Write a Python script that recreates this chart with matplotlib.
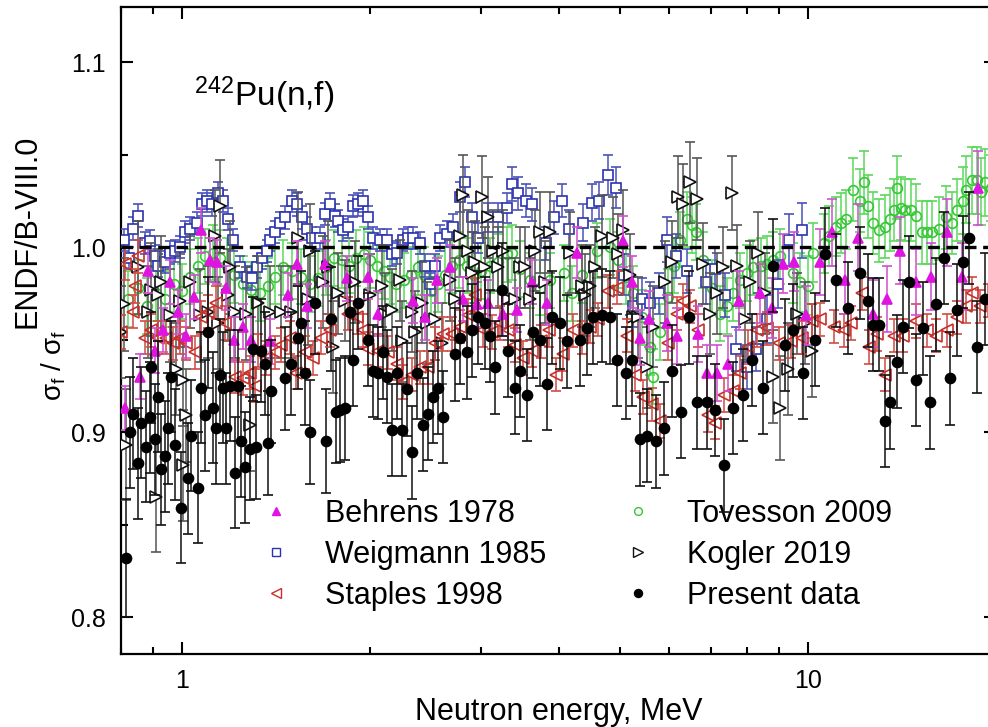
import matplotlib
matplotlib.use("Agg")
import matplotlib.pyplot as plt
import matplotlib.ticker as mticker
from matplotlib.lines import Line2D
import numpy as np

plt.rcParams["font.family"] = ["Liberation Sans", "DejaVu Sans"]
plt.rcParams["mathtext.fontset"] = "custom"
plt.rcParams["mathtext.rm"] = "Liberation Sans"
plt.rcParams["mathtext.it"] = "Liberation Sans"
plt.rcParams["mathtext.bf"] = "Liberation Sans:bold"

# (energy MeV, ratio to ENDF/B-VIII.0, uncertainty)
behrens = [
    (0.81, 0.913, 0.012), (0.857, 0.930, 0.012), (0.882, 0.987, 0.012), (0.905, 0.944, 0.012),
    (0.932, 0.955, 0.012), (0.957, 0.981, 0.012), (0.985, 0.965, 0.012), (1.015, 0.952, 0.012),
    (1.045, 0.973, 0.012), (1.072, 1.009, 0.012), (1.108, 0.993, 0.012), (1.137, 0.992, 0.012),
    (1.176, 0.978, 0.012), (1.211, 0.950, 0.012), (1.251, 0.957, 0.012), (1.289, 0.950, 0.012),
    (1.382, 0.949, 0.012), (1.477, 0.974, 0.012), (1.526, 0.991, 0.012), (1.584, 0.968, 0.012),
    (1.692, 0.991, 0.012), (1.834, 0.983, 0.012), (1.982, 0.984, 0.012), (2.057, 0.964, 0.012),
    (2.339, 0.971, 0.012), (2.444, 0.962, 0.012), (2.555, 0.982, 0.012), (2.680, 0.989, 0.012),
    (2.810, 0.972, 0.012), (2.960, 0.969, 0.012), (3.082, 0.970, 0.012), (3.257, 0.964, 0.012),
    (3.430, 0.966, 0.012), (3.624, 0.981, 0.012), (3.830, 0.970, 0.012), (4.272, 0.997, 0.014),
    (5.06, 1.003, 0.014), (5.236, 0.981, 0.014), (5.392, 0.951, 0.015), (5.574, 0.961, 0.015),
    (5.955, 0.959, 0.015), (6.182, 0.952, 0.015), (6.673, 0.953, 0.015), (6.896, 0.932, 0.015),
    (7.157, 0.932, 0.015), (7.450, 0.937, 0.015), (7.758, 0.971, 0.016), (8.381, 0.975, 0.016),
    (8.762, 0.967, 0.016), (9.120, 0.991, 0.016), (9.51, 0.992, 0.016), (9.92, 0.963, 0.016),
    (10.45, 0.992, 0.018), (10.92, 1.008, 0.018), (11.46, 0.982, 0.018), (12.0, 1.005, 0.018),
    (12.69, 0.964, 0.018), (13.36, 0.972, 0.018), (14.03, 0.998, 0.018), (14.89, 0.981, 0.018),
    (15.72, 0.984, 0.018), (16.7, 1.008, 0.018), (17.6, 0.984, 0.018), (18.7, 1.032, 0.02),
]

weigmann = [
    (0.807, 1.004, 0.006), (0.823, 0.994, 0.006), (0.835, 1.010, 0.006), (0.851, 1.017, 0.006),
    (0.873, 1.002, 0.006), (0.889, 1.003, 0.006), (0.905, 0.995, 0.006), (0.915, 0.990, 0.006),
    (0.939, 0.992, 0.006), (0.957, 0.997, 0.006), (0.975, 0.998, 0.006), (0.993, 1.000, 0.006),
    (1.011, 1.008, 0.006), (1.030, 1.010, 0.006), (1.057, 1.013, 0.006), (1.076, 1.023, 0.006),
    (1.096, 1.025, 0.006), (1.117, 1.023, 0.006), (1.142, 1.029, 0.006), (1.163, 1.025, 0.006),
    (1.184, 1.015, 0.006), (1.206, 1.004, 0.006), (1.238, 0.989, 0.006), (1.270, 0.984, 0.006),
    (1.294, 0.983, 0.006), (1.318, 0.989, 0.006), (1.342, 0.994, 0.006), (1.367, 0.998, 0.006),
    (1.382, 1.004, 0.006), (1.408, 1.008, 0.006), (1.434, 1.013, 0.006), (1.460, 1.016, 0.006),
    (1.499, 1.025, 0.006), (1.526, 1.023, 0.006), (1.555, 1.016, 0.006), (1.584, 1.010, 0.006),
    (1.613, 1.005, 0.006), (1.661, 1.005, 0.006), (1.692, 1.018, 0.006), (1.723, 1.023, 0.006),
    (1.755, 1.017, 0.006), (1.775, 1.014, 0.006), (1.808, 1.009, 0.006), (1.841, 1.011, 0.006),
    (1.875, 1.022, 0.006), (1.910, 1.023, 0.006), (1.946, 1.025, 0.006), (1.982, 1.016, 0.006),
    (2.019, 1.005, 0.006), (2.072, 1.004, 0.006), (2.126, 1.004, 0.006), (2.165, 0.996, 0.006),
    (2.205, 0.997, 0.006), (2.255, 1.004, 0.006), (2.297, 1.005, 0.006), (2.339, 1.005, 0.006),
    (2.400, 1.002, 0.006), (2.444, 0.990, 0.006), (2.490, 0.980, 0.006), (2.536, 0.990, 0.006),
    (2.583, 1.005, 0.007), (2.650, 1.007, 0.007), (2.710, 1.011, 0.007), (2.780, 1.027, 0.008),
    (2.832, 1.035, 0.008), (2.906, 1.016, 0.008), (2.970, 1.005, 0.008), (3.082, 1.016, 0.008),
    (3.197, 1.016, 0.008), (3.304, 1.021, 0.008), (3.368, 1.034, 0.009), (3.441, 1.029, 0.009),
    (3.544, 1.025, 0.009), (3.624, 1.023, 0.009), (3.810, 1.002, 0.009), (3.929, 1.016, 0.009),
    (4.048, 1.025, 0.009), (4.150, 1.010, 0.010), (4.372, 1.013, 0.010), (4.521, 1.024, 0.010),
    (4.636, 1.025, 0.010), (4.793, 1.039, 0.011), (4.936, 1.032, 0.011), (5.084, 0.985, 0.011),
    (5.256, 0.968, 0.011), (5.433, 0.972, 0.011), (5.594, 0.970, 0.011), (5.783, 0.975, 0.011),
    (5.955, 1.004, 0.012), (6.160, 0.995, 0.012), (6.402, 0.987, 0.012), (6.873, 0.981, 0.012),
    (7.102, 0.988, 0.012), (7.370, 0.974, 0.012), (7.673, 0.945, 0.012), (7.987, 0.935, 0.012),
    (8.259, 0.945, 0.012), (8.603, 0.961, 0.013), (8.957, 0.980, 0.013), (9.324, 1.004, 0.014),
    (9.780, 1.009, 0.015),
]

staples = [
    (0.799, 0.954, 0.009), (0.811, 0.991, 0.009), (0.835, 0.965, 0.009), (0.841, 0.979, 0.009),
    (0.851, 0.995, 0.009), (0.873, 0.951, 0.009), (0.892, 0.955, 0.009), (0.915, 0.951, 0.009),
    (0.943, 0.951, 0.009), (0.967, 0.948, 0.009), (0.993, 0.951, 0.009), (1.015, 0.948, 0.009),
    (1.049, 0.943, 0.009), (1.072, 0.962, 0.009), (1.100, 0.965, 0.009), (1.133, 0.970, 0.009),
    (1.171, 0.959, 0.009), (1.215, 0.930, 0.009), (1.251, 0.929, 0.009), (1.284, 0.932, 0.009),
    (1.308, 0.925, 0.009), (1.322, 0.944, 0.009), (1.362, 0.940, 0.009), (1.408, 0.943, 0.009),
    (1.439, 0.947, 0.009), (1.488, 0.951, 0.009), (1.521, 0.932, 0.009), (1.572, 0.943, 0.009),
    (1.619, 0.940, 0.009), (1.667, 0.951, 0.009), (1.723, 0.955, 0.009), (1.841, 0.964, 0.009),
    (1.903, 0.962, 0.009), (1.946, 0.955, 0.009), (1.982, 0.945, 0.009), (2.057, 0.944, 0.009),
    (2.134, 0.943, 0.009), (2.205, 0.937, 0.009), (2.255, 0.927, 0.009), (2.330, 0.931, 0.009),
    (2.400, 0.935, 0.009), (2.471, 0.935, 0.009), (2.536, 0.948, 0.009), (2.612, 0.953, 0.009),
    (2.700, 0.953, 0.009), (2.780, 0.957, 0.009), (2.863, 0.963, 0.009), (2.938, 0.974, 0.009),
    (3.024, 0.955, 0.009), (3.128, 0.954, 0.009), (3.221, 0.959, 0.009), (3.316, 0.955, 0.009),
    (3.404, 0.947, 0.009), (3.505, 0.940, 0.009), (3.624, 0.944, 0.009), (3.745, 0.949, 0.009),
    (3.858, 0.955, 0.009), (3.958, 0.931, 0.009), (4.068, 0.942, 0.009), (4.220, 0.955, 0.009),
    (4.359, 0.951, 0.009), (4.486, 0.957, 0.009), (4.620, 0.961, 0.009), (4.793, 0.976, 0.009),
    (4.952, 0.978, 0.009), (5.140, 0.952, 0.009), (5.295, 0.931, 0.009), (5.453, 0.919, 0.009),
    (5.635, 0.915, 0.009), (5.804, 0.906, 0.009), (5.977, 0.948, 0.009), (6.182, 0.964, 0.009),
    (6.317, 0.971, 0.009), (6.479, 0.968, 0.009), (6.673, 0.955, 0.009), (6.922, 0.909, 0.009),
    (7.102, 0.905, 0.009), (7.340, 0.920, 0.009), (7.589, 0.922, 0.009), (7.787, 0.932, 0.009),
    (8.013, 0.946, 0.009), (8.289, 0.955, 0.009), (8.603, 0.956, 0.009), (8.990, 0.948, 0.009),
    (9.393, 0.949, 0.009), (9.780, 0.951, 0.009), (10.14, 0.960, 0.009), (10.45, 0.961, 0.009),
    (11.0, 0.957, 0.009), (11.4, 0.955, 0.009), (11.7, 0.959, 0.009), (12.2, 0.975, 0.009),
    (12.5, 0.946, 0.009), (12.9, 0.953, 0.009), (13.3, 0.931, 0.009), (13.7, 0.952, 0.009),
    (14.2, 0.952, 0.009), (14.9, 0.960, 0.009), (15.5, 0.955, 0.009), (16.0, 0.952, 0.009),
    (16.7, 0.955, 0.009), (17.3, 0.962, 0.009), (17.9, 0.968, 0.009), (18.3, 0.975, 0.009),
    (18.8, 0.968, 0.009), (19.4, 0.971, 0.009),
]

tovesson = [
    (0.82, 0.972, 0.015), (0.85, 0.978, 0.015), (0.88, 0.968, 0.015), (0.91, 0.975, 0.015),
    (0.94, 0.972, 0.015), (0.97, 0.980, 0.015), (1.0, 0.976, 0.015), (1.03, 0.984, 0.015),
    (1.06, 0.990, 0.015), (1.09, 0.995, 0.015), (1.12, 0.997, 0.015), (1.15, 0.994, 0.015),
    (1.18, 0.990, 0.015), (1.21, 0.985, 0.015), (1.25, 0.980, 0.015), (1.29, 0.977, 0.015),
    (1.33, 0.975, 0.015), (1.37, 0.979, 0.015), (1.41, 0.984, 0.015), (1.45, 0.989, 0.015),
    (1.5, 0.987, 0.015), (1.55, 0.984, 0.015), (1.6, 0.980, 0.015), (1.65, 0.983, 0.015),
    (1.7, 0.989, 0.015), (1.75, 0.994, 0.015), (1.8, 0.993, 0.015), (1.85, 0.990, 0.015),
    (1.9, 0.994, 0.015), (1.95, 0.996, 0.015), (2.0, 0.993, 0.015), (2.05, 0.990, 0.015),
    (2.1, 0.987, 0.015), (2.15, 0.984, 0.015), (2.2, 0.980, 0.015), (2.26, 0.982, 0.015),
    (2.32, 0.985, 0.015), (2.38, 0.989, 0.015), (2.44, 0.985, 0.015), (2.5, 0.976, 0.015),
    (2.56, 0.980, 0.015), (2.63, 0.985, 0.015), (2.7, 0.990, 0.015), (2.77, 0.993, 0.015),
    (2.85, 0.990, 0.015), (2.93, 0.985, 0.015), (3.0, 0.987, 0.015), (3.1, 0.990, 0.015),
    (3.2, 0.992, 0.015), (3.3, 0.996, 0.015), (3.37, 0.997, 0.015), (3.47, 0.988, 0.015),
    (3.6, 0.982, 0.015), (3.73, 0.978, 0.015), (3.87, 0.982, 0.015), (4.07, 0.986, 0.015),
    (4.2, 0.975, 0.015), (4.35, 0.985, 0.015), (4.6, 0.998, 0.015), (4.83, 1.000, 0.015),
    (4.97, 0.993, 0.015), (5.12, 0.984, 0.015), (5.26, 0.975, 0.015), (5.43, 0.962, 0.015),
    (5.59, 0.946, 0.015), (5.66, 0.930, 0.015), (5.8, 0.954, 0.015), (5.98, 0.973, 0.015),
    (6.1, 0.990, 0.015), (6.25, 1.004, 0.015), (6.4, 1.015, 0.015), (6.52, 1.012, 0.015),
    (6.63, 1.008, 0.015), (6.8, 0.993, 0.015), (7.03, 0.978, 0.015), (7.23, 0.964, 0.015),
    (7.42, 0.968, 0.015), (7.59, 0.975, 0.015), (7.79, 0.982, 0.015), (7.98, 0.986, 0.015),
    (8.17, 0.989, 0.015), (8.4, 0.990, 0.015), (8.6, 0.991, 0.015), (8.8, 0.993, 0.015),
    (9.02, 0.995, 0.015), (9.46, 0.986, 0.016), (9.71, 0.981, 0.016), (10.0, 0.979, 0.016),
    (10.2, 0.997, 0.016), (10.6, 1.002, 0.016), (10.8, 1.006, 0.016), (11.1, 1.011, 0.016),
    (11.3, 1.013, 0.016), (11.5, 1.015, 0.016), (11.8, 1.031, 0.017), (12.1, 1.025, 0.017),
    (12.3, 1.035, 0.017), (12.45, 1.022, 0.017), (12.7, 1.013, 0.017), (13.0, 1.009, 0.017),
    (13.3, 1.011, 0.017), (13.5, 1.015, 0.017), (13.7, 1.020, 0.017), (13.9, 1.032, 0.017),
    (14.1, 1.021, 0.017), (14.3, 1.020, 0.017), (14.6, 1.020, 0.017), (14.9, 1.017, 0.017),
    (15.2, 1.008, 0.017), (15.5, 1.008, 0.017), (15.8, 1.008, 0.017), (16.2, 1.010, 0.017),
    (16.6, 1.016, 0.017), (17.0, 1.013, 0.017), (17.3, 1.020, 0.017), (17.7, 1.025, 0.018),
    (17.9, 1.031, 0.018), (18.3, 1.036, 0.018), (18.6, 1.036, 0.018), (18.9, 1.030, 0.018),
    (19.2, 1.035, 0.018), (19.6, 1.032, 0.018),
]

kogler = [
    (0.799, 0.954, 0.025), (0.807, 0.969, 0.025), (0.814, 0.893, 0.03), (0.851, 0.989, 0.025),
    (0.882, 0.965, 0.025), (0.892, 0.977, 0.025), (0.909, 0.865, 0.03), (0.915, 0.974, 0.025),
    (0.926, 0.981, 0.025), (0.957, 0.963, 0.025), (0.978, 0.934, 0.025), (0.993, 0.971, 0.025),
    (1.004, 0.928, 0.025), (1.004, 0.882, 0.03), (1.015, 0.909, 0.025), (1.030, 0.981, 0.025),
    (1.068, 0.963, 0.025), (1.100, 0.965, 0.025), (1.129, 1.006, 0.025), (1.142, 0.959, 0.025),
    (1.150, 1.022, 0.025), (1.184, 0.974, 0.025), (1.193, 0.989, 0.025), (1.215, 0.965, 0.025),
    (1.265, 0.964, 0.025), (1.284, 0.904, 0.025), (1.322, 0.970, 0.025), (1.382, 0.965, 0.025),
    (1.439, 0.965, 0.025), (1.493, 0.965, 0.025), (1.532, 1.005, 0.025), (1.590, 0.972, 0.025),
    (1.601, 0.998, 0.025), (1.679, 0.981, 0.025), (1.710, 0.989, 0.025), (1.742, 0.946, 0.025),
    (1.775, 0.975, 0.022), (1.821, 0.971, 0.022), (1.889, 0.981, 0.022), (1.997, 0.974, 0.022),
    (2.087, 0.979, 0.022), (2.110, 0.964, 0.022), (2.165, 0.966, 0.022), (2.230, 0.982, 0.022),
    (2.246, 0.949, 0.022), (2.330, 0.965, 0.022), (2.356, 0.954, 0.022), (2.417, 0.970, 0.022),
    (2.462, 0.959, 0.022), (2.536, 0.961, 0.022), (2.602, 0.948, 0.022), (2.680, 0.982, 0.022),
    (2.730, 0.972, 0.022), (2.780, 1.006, 0.022), (2.810, 1.028, 0.022), (2.863, 0.998, 0.022),
    (2.906, 0.986, 0.022), (2.938, 0.992, 0.022), (3.013, 1.027, 0.022), (3.048, 0.989, 0.022),
    (3.082, 1.016, 0.022), (3.140, 0.998, 0.022), (3.197, 0.989, 0.022), (3.257, 0.998, 0.022),
    (3.316, 0.972, 0.022), (3.404, 0.972, 0.022), (3.467, 0.989, 0.022), (3.532, 0.989, 0.022),
    (3.597, 0.972, 0.022), (3.664, 0.998, 0.022), (3.732, 1.008, 0.022), (3.801, 0.981, 0.022),
    (3.872, 1.008, 0.022), (4.168, 0.997, 0.022), (4.359, 0.979, 0.022), (4.410, 0.974, 0.022),
    (4.486, 0.979, 0.022), (4.570, 0.989, 0.022), (4.686, 1.006, 0.022), (4.886, 1.005, 0.022),
    (4.97, 0.996, 0.022), (5.06, 1.009, 0.022), (5.197, 0.985, 0.022), (5.256, 0.962, 0.022),
    (5.354, 0.962, 0.022), (5.533, 0.935, 0.022), (5.655, 0.957, 0.022), (5.912, 0.981, 0.022),
    (6.066, 0.992, 0.022), (6.202, 1.027, 0.022), (6.317, 1.023, 0.022), (6.479, 1.035, 0.022),
    (6.648, 1.026, 0.022), (6.796, 0.991, 0.022), (6.974, 0.964, 0.022), (7.157, 0.975, 0.022),
    (7.317, 0.989, 0.022), (7.561, 1.029, 0.02), (7.704, 0.990, 0.022), (7.942, 0.961, 0.022),
    (8.078, 0.981, 0.022), (8.316, 0.997, 0.022), (8.534, 0.975, 0.022), (8.793, 0.930, 0.025),
    (9.022, 0.913, 0.028), (9.290, 0.934, 0.025), (9.604, 0.964, 0.022), (9.89, 0.959, 0.022),
    (10.14, 0.944, 0.025),
]

present = [
    (0.814, 0.832, 0.032), (0.826, 0.900, 0.03), (0.835, 0.910, 0.03), (0.851, 0.883, 0.03),
    (0.860, 0.905, 0.03), (0.876, 0.892, 0.03), (0.889, 0.908, 0.03), (0.892, 0.935, 0.03),
    (0.905, 0.896, 0.03), (0.915, 0.919, 0.03), (0.926, 0.880, 0.03), (0.939, 0.887, 0.03),
    (0.950, 0.902, 0.03), (0.960, 0.930, 0.03), (0.975, 0.893, 0.03), (0.996, 0.859, 0.03),
    (1.022, 0.875, 0.03), (1.034, 0.898, 0.03), (1.061, 0.870, 0.03), (1.072, 0.924, 0.03),
    (1.088, 0.909, 0.03), (1.100, 0.954, 0.03), (1.121, 0.913, 0.03), (1.133, 0.902, 0.03),
    (1.150, 0.931, 0.03), (1.163, 0.924, 0.03), (1.176, 0.902, 0.03), (1.193, 0.925, 0.03),
    (1.215, 0.878, 0.03), (1.229, 0.925, 0.03), (1.242, 0.895, 0.03), (1.260, 0.881, 0.03),
    (1.284, 0.891, 0.028), (1.298, 0.945, 0.028), (1.313, 0.892, 0.028), (1.337, 0.944, 0.028),
    (1.357, 0.937, 0.028), (1.372, 0.894, 0.028), (1.388, 0.922, 0.028), (1.460, 0.929, 0.028),
    (1.493, 0.937, 0.028), (1.532, 0.951, 0.028), (1.549, 0.959, 0.028), (1.572, 0.932, 0.028),
    (1.601, 0.900, 0.028), (1.631, 0.970, 0.028), (1.699, 0.895, 0.028), (1.730, 0.961, 0.028),
    (1.762, 0.911, 0.028), (1.788, 0.912, 0.028), (1.821, 0.913, 0.028), (1.855, 0.965, 0.025),
    (1.875, 0.939, 0.025), (1.910, 0.970, 0.025), (1.982, 0.950, 0.025), (2.019, 0.933, 0.025),
    (2.057, 0.932, 0.025), (2.095, 0.943, 0.025), (2.126, 0.930, 0.025), (2.165, 0.901, 0.025),
    (2.205, 0.932, 0.025), (2.246, 0.901, 0.025), (2.288, 0.923, 0.025), (2.330, 0.889, 0.025),
    (2.373, 0.932, 0.025), (2.426, 0.904, 0.025), (2.471, 0.910, 0.025), (2.517, 0.919, 0.025),
    (2.564, 0.924, 0.025), (2.612, 0.908, 0.025), (2.730, 0.942, 0.025), (2.780, 0.951, 0.025),
    (2.854, 0.943, 0.025), (2.906, 0.955, 0.025), (2.970, 0.962, 0.025), (3.048, 0.959, 0.025),
    (3.105, 0.952, 0.025), (3.163, 0.935, 0.025), (3.245, 0.977, 0.025), (3.316, 0.944, 0.025),
    (3.404, 0.924, 0.025), (3.467, 0.933, 0.025), (3.557, 0.920, 0.025), (3.636, 0.954, 0.025),
    (3.732, 0.950, 0.025), (3.830, 0.926, 0.025), (3.901, 0.962, 0.025), (4.017, 0.959, 0.025),
    (4.123, 0.949, 0.025), (4.324, 0.950, 0.025), (4.437, 0.956, 0.025), (4.534, 0.962, 0.025),
    (4.686, 0.963, 0.025), (4.829, 0.962, 0.025), (4.952, 0.939, 0.025), (5.112, 0.932, 0.025),
    (5.236, 0.939, 0.025), (5.392, 0.896, 0.025), (5.533, 0.898, 0.025), (5.719, 0.895, 0.025),
    (5.891, 0.902, 0.025), (6.066, 0.933, 0.025), (6.270, 0.911, 0.025), (6.456, 0.962, 0.025),
    (6.648, 0.916, 0.025), (6.896, 0.916, 0.025), (7.102, 0.912, 0.025), (7.340, 0.882, 0.025),
    (7.589, 0.913, 0.025), (7.880, 0.920, 0.025), (8.139, 0.939, 0.025), (8.488, 0.924, 0.025),
    (8.793, 0.990, 0.025), (9.197, 0.947, 0.025), (9.460, 0.955, 0.025), (9.815, 0.932, 0.025),
    (10.26, 0.950, 0.025), (10.63, 0.996, 0.025), (11.08, 0.982, 0.025), (11.57, 0.967, 0.025),
    (12.11, 0.986, 0.025), (12.45, 0.971, 0.025), (12.69, 0.958, 0.025), (13.0, 0.958, 0.025),
    (13.29, 0.906, 0.025), (13.52, 0.916, 0.025), (13.88, 0.938, 0.025), (14.19, 0.957, 0.025),
    (14.51, 0.981, 0.025), (14.89, 0.928, 0.025), (15.28, 0.956, 0.025), (15.66, 0.916, 0.025),
    (16.0, 0.969, 0.025), (16.5, 0.994, 0.025), (16.86, 0.929, 0.025), (17.3, 0.966, 0.025),
    (17.7, 0.992, 0.025), (18.1, 1.005, 0.025), (18.6, 0.946, 0.025), (19.2, 0.972, 0.025),
]

labels = ["Behrens 1978", "Weigmann 1985", "Staples 1998",
          "Tovesson 2009", "Kogler 2019", "Present data"]

xticks = [1, 10]
xtick_labels = ["1", "10"]
yticks = [0.8, 0.9, 1.0, 1.1]
ytick_labels = ["0.8", "0.9", "1.0", "1.1"]

# marker, size, face, edge, errbar colour, zorder
styles = {
    "Tovesson 2009": ("o", 7, "none", "#36c636", "#5cd85c", 2),
    "Weigmann 1985": ("s", 6.8, "white", "#2a34b0", "#4a52b8", 3),
    "Kogler 2019": (">", 9, "white", "#111111", "#555555", 4),
    "Staples 1998": ("<", 8.5, "none", "#c8302c", "#d04a44", 5),
    "Behrens 1978": ("^", 7.5, "#e014e0", "#e014e0", "#d050d0", 6),
    "Present data": ("o", 7.2, "black", "black", "#111111", 7),
}
series = {
    "Behrens 1978": behrens, "Weigmann 1985": weigmann, "Staples 1998": staples,
    "Tovesson 2009": tovesson, "Kogler 2019": kogler, "Present data": present,
}

fig = plt.figure(figsize=(9.88, 7.27), dpi=100)
ax = fig.add_axes([0.1228, 0.1004, 0.8857, 0.8906])

for name in ["Tovesson 2009", "Weigmann 1985", "Kogler 2019", "Staples 1998",
             "Behrens 1978", "Present data"]:
    e, r, err = np.array(series[name]).T
    m, ms, fc, ec, bc, z = styles[name]
    ax.errorbar(e, r, yerr=err, fmt=m, ms=ms, mfc=fc, mec=ec, mew=1.2,
                ecolor=bc, elinewidth=1.1, capsize=3.5, capthick=1.1, zorder=z)

ax.axhline(1.0, color="black", lw=2.4, ls=(0, (3.5, 2.0)), zorder=8)

ax.set_xscale("log")
ax.set_xlim(0.8, 20)
ax.set_ylim(0.78, 1.13)
ax.xaxis.set_major_locator(mticker.FixedLocator(xticks))
ax.xaxis.set_major_formatter(mticker.FixedFormatter(xtick_labels))
ax.xaxis.set_minor_locator(mticker.LogLocator(base=10, subs=np.arange(2, 10), numticks=20))
ax.xaxis.set_minor_formatter(mticker.NullFormatter())
ax.yaxis.set_major_locator(mticker.FixedLocator(yticks))
ax.yaxis.set_major_formatter(mticker.FixedFormatter(ytick_labels))
ax.yaxis.set_minor_locator(mticker.MultipleLocator(0.05))

ax.tick_params(which="both", direction="in", top=True, right=True, width=1.5,
               labelsize=18, pad=11)
ax.tick_params(which="major", length=8.5)
ax.tick_params(which="minor", length=5)
for sp in ax.spines.values():
    sp.set_linewidth(1.6)

ax.set_xlabel("Neutron energy, MeV", fontsize=22, labelpad=3)

fig.text(0.028, 1 - 231 / 727, "ENDF/B-VIII.0", rotation=90, fontsize=22,
         ha="center", va="center")
fig.text(0.054, 1 - 366 / 727, r"$\sigma_f\ /\ \sigma_f$", rotation=90, fontsize=20,
         ha="center", va="center")

ax.text(0.083, 0.846, r"$^{242}$Pu(n,f)", transform=ax.transAxes, fontsize=24,
        va="baseline")

handles = []
for name in labels:
    m, ms, fc, ec, bc, z = styles[name]
    handles.append(Line2D([], [], ls="none", marker=m, ms=ms * 0.8, mfc=fc, mec=ec, mew=1.0))
ax.legend(handles, labels, ncol=2, frameon=False, fontsize=22, loc="upper left",
          bbox_to_anchor=(261 / 988, 1 - 499 / 727), bbox_transform=fig.transFigure,
          borderpad=0, borderaxespad=0, handlelength=1.0, handletextpad=1.1,
          columnspacing=2.5, labelspacing=0.36)

fig.savefig("out.png", dpi=100)
